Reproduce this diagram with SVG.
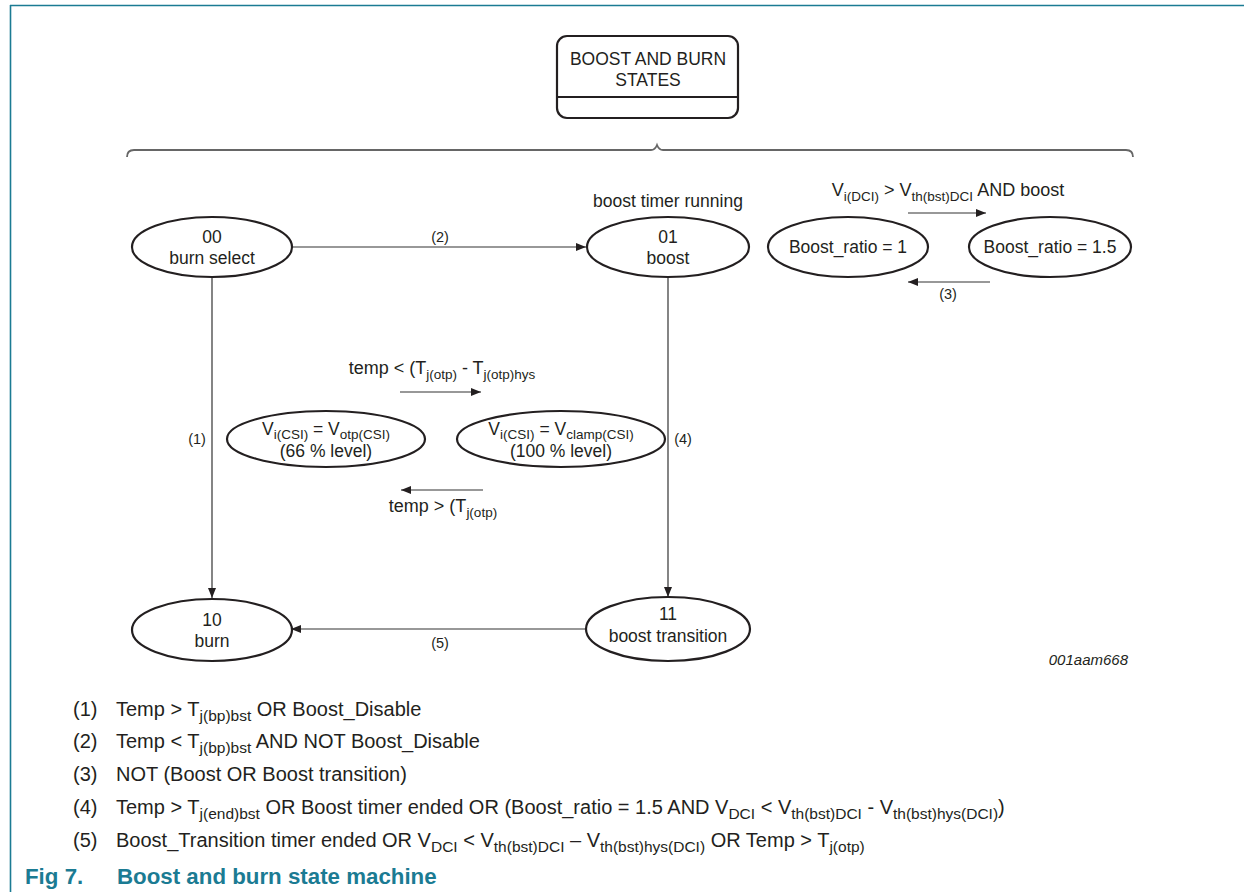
<svg xmlns="http://www.w3.org/2000/svg" width="1244" height="892" viewBox="0 0 1244 892">
<style>
text{font-family:"Liberation Sans",Arial,sans-serif;fill:#231f20}
.n{font-size:17.5px;text-anchor:middle}
.m{font-size:18px;text-anchor:middle}
.c{font-size:14.5px;text-anchor:middle}
.lg{font-size:20px}
.s{font-size:13.5px}
.sl{font-size:15.5px}
.st{fill:#fff;stroke:#231f20;stroke-width:2.2}
.ln{stroke:#333;stroke-width:1.2;fill:none}
.cap{font-size:22.3px;font-weight:bold;fill:#1b7b93}
</style>
<defs>
<marker id="ah" viewBox="0 0 10 8" refX="10" refY="4" markerWidth="10" markerHeight="8" markerUnits="userSpaceOnUse" orient="auto">
<path d="M0,0 L10,4 L0,8 Z" fill="#231f20"/>
</marker>
</defs>
<rect width="1244" height="892" fill="#fff"/>
<path d="M10,5.5 H1244 M10.5,5 V892" stroke="#1b7b93" stroke-width="1.6" fill="none"/>

<g id="title">
<rect x="557" y="36" width="181" height="82" rx="10" class="st"/>
<line x1="557" y1="97" x2="738" y2="97" stroke="#231f20" stroke-width="2"/>
<text class="n" x="648" y="65">BOOST AND BURN</text>
<text class="n" x="648" y="86">STATES</text>
</g>
<path id="brace" d="M127,157 Q127,150 134,150 H651 Q655,150 657,145 Q659,150 663,150 H1126 Q1133,150 1133,157" fill="none" stroke="#666" stroke-width="1.8"/>

<g id="connectors">
<line class="ln" x1="292" y1="247" x2="586" y2="247" marker-end="url(#ah)"/>
<line class="ln" x1="212" y1="277" x2="212" y2="598" marker-end="url(#ah)"/>
<line class="ln" x1="668" y1="277" x2="668" y2="597" marker-end="url(#ah)"/>
<line class="ln" x1="586" y1="629" x2="291" y2="629" marker-end="url(#ah)"/>
<line class="ln" x1="908" y1="213" x2="986" y2="213" marker-end="url(#ah)"/>
<line class="ln" x1="990" y1="282" x2="908" y2="282" marker-end="url(#ah)"/>
<line class="ln" x1="400" y1="392" x2="481" y2="392" marker-end="url(#ah)"/>
<line class="ln" x1="483" y1="490" x2="401" y2="490" marker-end="url(#ah)"/>
<text class="c" x="440" y="242">(2)</text>
<text class="c" x="197" y="444">(1)</text>
<text class="c" x="683" y="444">(4)</text>
<text class="c" x="440" y="648">(5)</text>
<text class="c" x="948" y="299">(3)</text>
<text class="m" x="948" y="196">V<tspan class="s" dy="5">i(DCI)</tspan><tspan dy="-5"> &gt; V</tspan><tspan class="s" dy="5">th(bst)DCI</tspan><tspan dy="-5"> AND boost</tspan></text>
<text class="m" x="442" y="374">temp &lt; (T<tspan class="s" dy="5">j(otp)</tspan><tspan dy="-5"> - T</tspan><tspan class="s" dy="5">j(otp)hys</tspan></text>
<text class="m" x="443" y="512">temp &gt; (T<tspan class="s" dy="5">j(otp)</tspan></text>
</g>

<g id="s00">
<ellipse cx="212" cy="247" rx="80" ry="30" class="st"/>
<text class="n" x="212" y="243">00</text>
<text class="n" x="212" y="264">burn select</text>
</g>
<g id="s01">
<text class="n" x="668" y="207">boost timer running</text>
<ellipse cx="668" cy="247" rx="81" ry="30" class="st"/>
<text class="n" x="668" y="243">01</text>
<text class="n" x="668" y="264">boost</text>
</g>
<g id="br1">
<ellipse cx="848" cy="247" rx="80" ry="30" class="st"/>
<text class="n" x="848" y="253">Boost_ratio = 1</text>
</g>
<g id="br15">
<ellipse cx="1050" cy="247" rx="81" ry="30" class="st"/>
<text class="n" x="1050" y="253">Boost_ratio = 1.5</text>
</g>
<g id="otp66">
<ellipse cx="326" cy="439" rx="99" ry="28" class="st"/>
<text class="n" x="326" y="435">V<tspan class="s" dy="4">i(CSI)</tspan><tspan dy="-4"> = V</tspan><tspan class="s" dy="4">otp(CSI)</tspan></text>
<text class="n" x="326" y="457">(66 % level)</text>
</g>
<g id="clamp100">
<ellipse cx="561" cy="439" rx="104" ry="28" class="st"/>
<text class="n" x="561" y="435">V<tspan class="s" dy="4">i(CSI)</tspan><tspan dy="-4"> = V</tspan><tspan class="s" dy="4">clamp(CSI)</tspan></text>
<text class="n" x="561" y="457">(100 % level)</text>
</g>
<g id="s10">
<ellipse cx="212" cy="630" rx="80" ry="31" class="st"/>
<text class="n" x="212" y="626">10</text>
<text class="n" x="212" y="647">burn</text>
</g>
<g id="s11">
<ellipse cx="668" cy="629" rx="82" ry="32" class="st"/>
<text class="n" x="668" y="620">11</text>
<text class="n" x="668" y="642">boost transition</text>
</g>
<text x="1128" y="665" font-style="italic" text-anchor="end" style="font-size:15px">001aam668</text>

<g id="legend">
<text class="lg" x="73" y="716">(1)</text>
<text class="lg" x="116" y="716">Temp &gt; T<tspan class="sl" dy="5">j(bp)bst</tspan><tspan dy="-5"> OR Boost_Disable</tspan></text>
<text class="lg" x="73" y="748">(2)</text>
<text class="lg" x="116" y="748">Temp &lt; T<tspan class="sl" dy="5">j(bp)bst</tspan><tspan dy="-5"> AND NOT Boost_Disable</tspan></text>
<text class="lg" x="73" y="781">(3)</text>
<text class="lg" x="116" y="781">NOT (Boost OR Boost transition)</text>
<text class="lg" x="73" y="814">(4)</text>
<text class="lg" x="116" y="814">Temp &gt; T<tspan class="sl" dy="5">j(end)bst</tspan><tspan dy="-5"> OR Boost timer ended OR (Boost_ratio = 1.5 AND V</tspan><tspan class="sl" dy="5">DCI</tspan><tspan dy="-5"> &lt; V</tspan><tspan class="sl" dy="5">th(bst)DCI</tspan><tspan dy="-5"> - V</tspan><tspan class="sl" dy="5">th(bst)hys(DCI)</tspan><tspan dy="-5">)</tspan></text>
<text class="lg" x="73" y="847">(5)</text>
<text class="lg" x="116" y="847">Boost_Transition timer ended OR V<tspan class="sl" dy="5">DCI</tspan><tspan dy="-5"> &lt; V</tspan><tspan class="sl" dy="5">th(bst)DCI</tspan><tspan dy="-5"> – V</tspan><tspan class="sl" dy="5">th(bst)hys(DCI)</tspan><tspan dy="-5"> OR Temp &gt; T</tspan><tspan class="sl" dy="5">j(otp)</tspan></text>
</g>
<text class="cap" x="25" y="884">Fig 7.</text>
<text class="cap" x="117" y="884">Boost and burn state machine</text>
</svg>
